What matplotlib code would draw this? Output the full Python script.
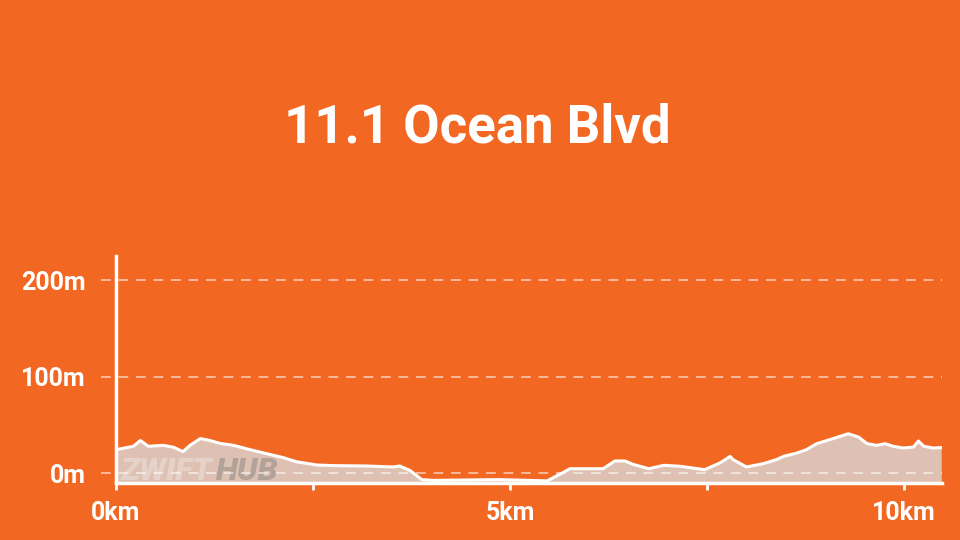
import matplotlib
matplotlib.use("Agg")
import matplotlib.pyplot as plt

# Elevation profile (km, m)
dist_km = [0.0, 0.22, 0.31, 0.41, 0.60, 0.73, 0.85, 0.94, 1.07, 1.19, 1.32, 1.49,
           1.70, 1.91, 2.12, 2.29, 2.55, 2.76, 3.18, 3.52, 3.60, 3.73, 3.88, 4.03,
           4.87, 5.47, 5.63, 5.76, 5.93, 6.18, 6.33, 6.46, 6.56, 6.76, 6.95, 7.16,
           7.47, 7.66, 7.75, 7.79, 7.83, 8.00, 8.21, 8.38, 8.47, 8.64, 8.76, 8.89,
           9.10, 9.29, 9.42, 9.53, 9.65, 9.76, 9.86, 9.99, 10.12, 10.18, 10.25,
           10.37, 10.47]
elev_m = [24.5, 28, 34, 28, 29, 27, 22.5, 29, 36, 34, 31, 29,
          24.5, 20.4, 16.3, 12, 8.6, 8, 7.6, 6.6, 7.6, 3, -6.5, -7.3,
          -6.5, -7.8, -1, 4.8, 4.8, 4.8, 12.8, 12.8, 9.3, 4.8, 8.3, 7.3,
          3.8, 10.7, 15.2, 17.6, 14.2, 6.6, 10, 14.2, 17.6, 21, 24.5, 30.7,
          36, 41, 37.6, 30.7, 29, 30.7, 28, 26.2, 27.3, 33.5, 28,
          26.2, 26.7]

title = "11.1 Ocean Blvd"
y_ticks = [0, 100, 200]
y_labels = ["0m", "100m", "200m"]
x_ticks = [0, 2.5, 5, 7.5, 10]
x_labels = ["0km", "", "5km", "", "10km"]

orange = "#f26722"
fill_col = "#dec1b3"

plt.rcParams['font.family'] = ['Roboto', 'DejaVu Sans']

fig = plt.figure(figsize=(9.6, 5.4), dpi=100)
fig.patch.set_facecolor(orange)
ax = fig.add_axes([116/960, 57/540, 826/960, 227/540])
ax.set_facecolor(orange)

ymin, ymax = -10, 225
ax.set_xlim(0, 10.48)
ax.set_ylim(ymin, ymax)

ax.fill_between(dist_km, elev_m, ymin, color=fill_col, lw=0, zorder=1)

# watermark
ax.text(0.005, 0.012, "ZWIFT", transform=ax.transAxes, fontsize=23, fontstyle='italic',
        fontweight='black', color="#e5d3c9", zorder=2)
ax.text(0.121, 0.012, "HUB", transform=ax.transAxes, fontsize=23, fontstyle='italic',
        fontweight='black', color="#b2a29a", zorder=2)

ax.plot(dist_km, elev_m, color="white", lw=2.2, zorder=3)

# dashed grid, extending a little past the left spine
for yv in y_ticks:
    ax.plot([-15/826, 1], [(yv - ymin)/(ymax - ymin)]*2, transform=ax.transAxes,
            color="white", alpha=0.55, lw=1.4, ls=(0, (5, 4)), clip_on=False, zorder=4)

for s in ["top", "right"]:
    ax.spines[s].set_visible(False)
for s in ["left", "bottom"]:
    ax.spines[s].set_color("white")
    ax.spines[s].set_linewidth(2.5)
    ax.spines[s].set_zorder(5)

ax.set_yticks(y_ticks)
ax.set_yticklabels(y_labels)
ax.set_xticks(x_ticks)
ax.set_xticklabels(x_labels)
ax.tick_params(axis='y', length=0, pad=22, labelsize=18, labelcolor="white")
ax.tick_params(axis='x', length=5, width=2, color="white", pad=8, labelsize=18,
               labelcolor="white")
for lab in ax.get_xticklabels() + ax.get_yticklabels():
    lab.set_fontweight('bold')

fig.text(0.497, 1 - 128/540, title, ha='center', va='center', color="white",
         fontsize=38, fontweight='bold')

fig.savefig("out.png", dpi=100, facecolor=orange)
